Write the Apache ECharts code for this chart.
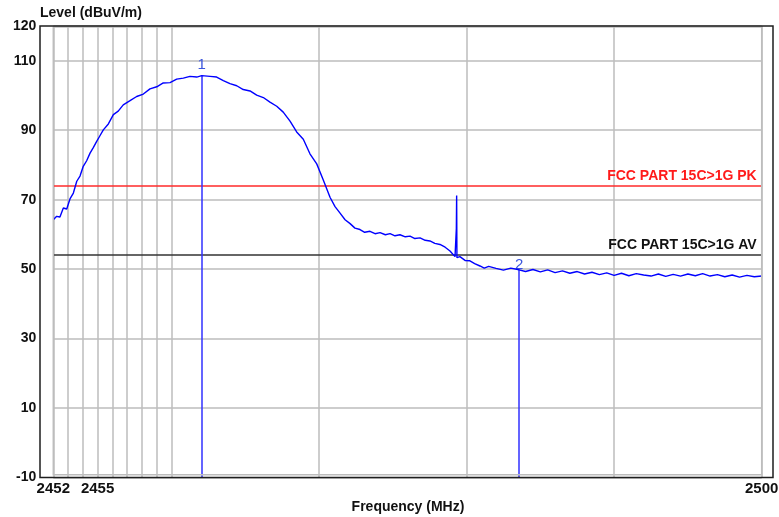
<!DOCTYPE html>
<html>
<head>
<meta charset="utf-8">
<script src="https://cdn.jsdelivr.net/npm/echarts@6/dist/echarts.min.js"></script>
<style>html,body{margin:0;padding:0;background:#fff;}#c{width:779px;height:517px;}</style>
</head>
<body>
<div id="c"></div>
<script>
// ---- data ----
const freqMHz = [
 2452.00,2452.23,2452.45,2452.68,2452.91,2453.13,2453.36,2453.59,2453.81,2454.03,
 2454.26,2454.49,2454.71,2454.94,2455.16,2455.39,2455.73,2456.07,2456.40,2456.74,
 2457.20,2457.65,2458.10,2458.55,2459.01,2459.45,2459.91,2460.36,2460.81,2461.26,
 2461.72,2462.06,2462.62,2463.07,2463.52,2463.97,2464.43,2464.87,2465.33,2465.78,
 2466.23,2466.68,2467.14,2467.58,2468.04,2468.49,2468.94,2469.39,2469.85,2470.30,
 2470.75,2471.09,2471.43,2471.77,2472.11,2472.44,2472.78,2473.10,2473.46,2473.80,
 2474.14,2474.50,2474.82,2475.15,2475.49,2475.85,2476.17,2476.50,2476.85,2477.20,
 2477.52,2477.85,2478.20,2478.55,2478.88,2479.22,2479.31,2479.33,2479.35,2479.55,
 2479.90,2480.23,2480.55,2480.91,2481.20,2481.50,2482.00,2482.50,2483.00,2483.56,
 2484.00,2484.50,2485.00,2485.50,2486.00,2486.50,2487.00,2487.50,2488.00,2488.50,
 2489.00,2489.50,2490.00,2490.50,2491.00,2491.50,2492.00,2492.50,2493.00,2493.50,
 2494.00,2494.50,2495.00,2495.50,2496.00,2496.50,2497.00,2497.50,2498.00,2498.50,
 2499.00,2499.50,2500.00
];
const levelDbuV = [
 64.2,65.2,65.0,67.6,67.3,70.2,71.9,75.3,76.8,79.6,
 81.2,83.4,85.0,86.8,88.4,90.1,91.8,94.5,95.5,97.3,
 98.5,99.7,100.4,101.9,102.5,103.6,103.7,104.7,105.0,105.5,
 105.3,105.7,105.5,105.3,104.3,103.4,102.8,101.7,101.3,100.1,
 99.4,98.1,96.9,95.2,92.6,89.5,87.4,83.2,80.3,75.6,
 70.7,68.0,66.1,64.2,63.1,61.8,61.4,60.6,60.9,60.2,
 60.5,59.9,60.2,59.6,59.9,59.3,59.5,58.8,59.0,58.3,
 58.1,57.4,57.1,56.3,55.2,53.6,61.7,71.2,53.3,53.6,
 52.5,52.4,51.6,50.9,50.3,50.8,50.2,49.7,50.3,49.8,
 49.3,49.9,49.2,49.8,49.0,49.5,48.8,49.3,48.6,49.1,
 48.4,48.9,48.2,48.8,48.1,48.7,48.3,48.0,48.6,47.9,
 48.5,48.0,48.6,48.1,48.7,48.0,48.4,47.8,48.3,47.7,
 48.2,47.8,48.0
];
const xGridFreqs = [2452,2453,2454,2455,2456,2457,2458,2459,2460,2470,2480,2490,2500];
const xTickLabels = [2452,2455,2500];
const yTickLabels = [-10,10,30,50,70,90,110,120];
const limitPK = 74, limitAV = 54;
const limitPKName = 'FCC PART 15C>1G PK';
const limitAVName = 'FCC PART 15C>1G AV';
const markers = [ {name:'1', freq:2462.06, level:105.7}, {name:'2', freq:2483.56, level:49.8} ];
const markerLabelGap = [3, -3];

const FONT = "'Liberation Sans', Arial, sans-serif";
const chart = echarts.init(document.getElementById('c'), null, {renderer:'canvas'});

const traceData = freqMHz.map((f,i)=>[f, levelDbuV[i]]);

chart.setOption({
  animation:false,
  backgroundColor:'#ffffff',
  grid:{left:53.3, right:17.3, top:26, bottom:39.5, show:false, containLabel:false, outerBoundsMode:'none'},
  xAxis:{
    type:'value', min:2452, max:2500,
    axisLine:{show:false},
    axisTick:{show:false, customValues:xGridFreqs},
    splitLine:{show:true, lineStyle:{color:'#bdbdbd', width:1.5}},
    axisLabel:{customValues:xTickLabels, formatter:v=>String(v), color:'#111', fontFamily:FONT, fontWeight:'bold', fontSize:15, margin:4,
      showMinLabel:true, showMaxLabel:true, hideOverlap:false}
  },
  yAxis:{
    type:'value', min:-10, max:120, interval:20,
    axisLine:{show:false}, axisTick:{show:false},
    splitLine:{show:true, lineStyle:{color:'#bdbdbd', width:1.5}},
    axisLabel:{customValues:yTickLabels, formatter:v=>String(v), color:'#111', fontFamily:FONT, fontWeight:'bold', fontSize:14, margin:17}
  },
  graphic:[
    {type:'rect', z:100, silent:true, shape:{x:53.3, y:27, width:708.4, height:447.7}, style:{fill:null, stroke:'#bdbdbd', lineWidth:1.5}},
    {type:'rect', z:101, silent:true, shape:{x:40, y:26, width:733, height:451.5}, style:{fill:null, stroke:'#1e1e1e', lineWidth:1.5}},
    {type:'text', left:40, top:6, style:{text:'Level (dBuV/m)', font:"bold 14px "+FONT, fill:'#111'}},
    {type:'text', x:408, y:507, style:{text:'Frequency (MHz)', font:"bold 14px "+FONT, fill:'#111', textAlign:'center', textVerticalAlign:'middle'}}
  ],
  series:[
    {
      type:'line', data:traceData, showSymbol:false, symbol:'none', z:5,
      lineStyle:{color:'#0000ff', width:1.4},
      markLine:{
        silent:true, symbol:['none','none'], animation:false,
        data:[
          {yAxis:limitPK, lineStyle:{color:'#ff2a2a', width:1.5, type:'solid'},
           label:{show:true, position:'insideEndTop', formatter:limitPKName, color:'#ff1a1a', fontFamily:FONT, fontWeight:'bold', fontSize:14, distance:[5,3]}},
          {yAxis:limitAV, lineStyle:{color:'#333333', width:1.5, type:'solid'},
           label:{show:true, position:'insideEndTop', formatter:limitAVName, color:'#111', fontFamily:FONT, fontWeight:'bold', fontSize:14, distance:[5,3]}}
        ].concat(markers.map((m,i)=>[
          {coord:[m.freq, m.level], lineStyle:{color:'#3030ff', width:1.5, type:'solid'},
           label:{show:true, position:'start', formatter:m.name, color:'#3a55dd', fontFamily:FONT, fontSize:15, distance:markerLabelGap[i]}},
          {coord:[m.freq, -10]}
        ]))
      }
    }
  ]
});
</script>
</body>
</html>
